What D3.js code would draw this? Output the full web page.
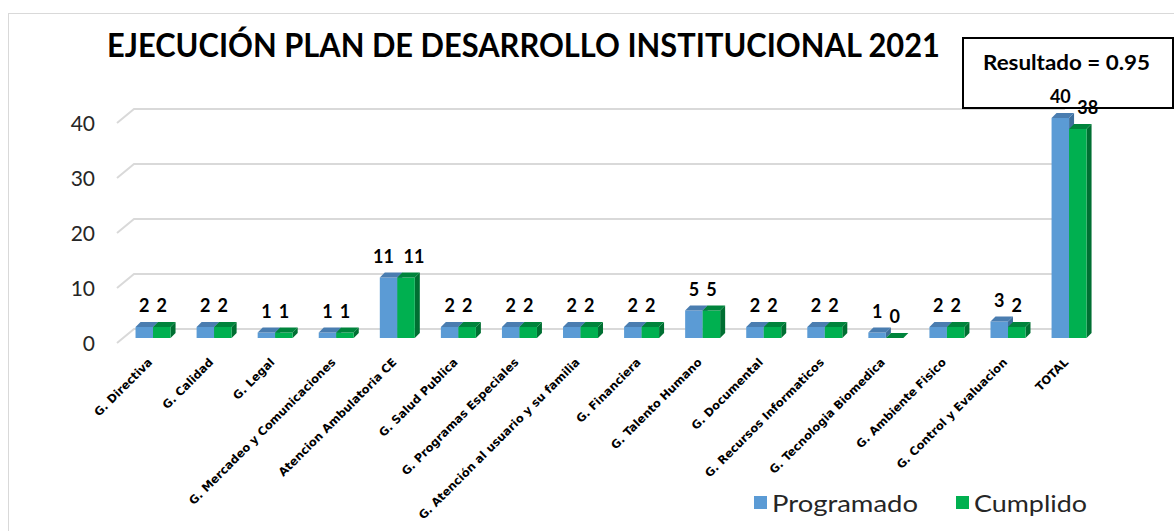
<!DOCTYPE html>
<html lang="es">
<head>
<meta charset="UTF-8">
<title>Ejecución Plan de Desarrollo Institucional 2021</title>
<script src="https://cdn.jsdelivr.net/npm/d3@7"></script>
<style>
	body { margin: 0; background: #fff; }
	.grid-line { fill: none; stroke: #d9d9d9; stroke-width: 2; }
	.y-axis text { font-family: Lato, sans-serif; font-size: 21px; fill: #262626; }
	.x-axis text { font-family: "DejaVu Sans", sans-serif; font-weight: bold; font-size: 11.5px; fill: #000; }
	.val { font-family: Lato, sans-serif; font-weight: bold; font-size: 18px; fill: #000; }
</style>
</head>
<body>
<div id="container"></div>
<script>
	const categories = ['G. Directiva', 'G. Calidad', 'G. Legal', 'G. Mercadeo y Comunicaciones',
		'Atencion Ambulatoria CE', 'G. Salud Publica', 'G. Programas Especiales',
		'G. Atención al usuario y su familia', 'G. Financiera', 'G. Talento Humano',
		'G. Documental', 'G. Recursos Informaticos', 'G. Tecnologia Biomedica',
		'G. Ambiente Fisico', 'G. Control y Evaluacion', 'TOTAL'];
	const programado = [2, 2, 1, 1, 11, 2, 2, 2, 2, 5, 2, 2, 1, 2, 3, 40];
	const cumplido   = [2, 2, 1, 1, 11, 2, 2, 2, 2, 5, 2, 2, 0, 2, 2, 38];
	const series = ['Programado', 'Cumplido'];
	const yTicks = [0, 10, 20, 30, 40];
	const title = 'EJECUCIÓN PLAN DE DESARROLLO INSTITUCIONAL 2021';
	const resultado = 'Resultado = 0.95';

	const width = 1174,
		height = 531;

	const colors = {
		Programado: { front: '#5b9bd5', top: '#4a7db0', side: '#3f6f9c' },
		Cumplido:   { front: '#00b050', top: '#00843c', side: '#006f32' }
	};
	const depth = 5; // bar 3d offset

	// label shifts where excel moved them apart
	function nudge(cat, s) {
		if (cat === 'Atencion Ambulatoria CE') return s === 'Programado' ? -5 : 8;
		if (cat === 'TOTAL' && s === 'Cumplido') return 10;
		return 0;
	}

	const x = d3.scaleBand()
		.domain(categories)
		.range([122.5, 1099.6]);

	const xs = d3.scaleBand()
		.domain(series)
		.range([0, 35]);

	const y = d3.scaleLinear()
		.domain([0, 40])
		.range([338, 118]);

	const svg = d3.select('#container')
		.append('svg')
		.attr('width', width)
		.attr('height', height);

	svg.append('rect')
		.attr('x', 8.5).attr('y', 13.5)
		.attr('width', 1200).attr('height', 600)
		.attr('fill', '#fff')
		.attr('stroke', '#d9d9d9');

	// grid lines on the back wall
	svg.append('g')
		.selectAll('path')
		.data(yTicks)
		.join('path')
		.classed('grid-line', true)
		.attr('d', d => `M117,${y(d) + 5}L134,${y(d) - 9}L1065,${y(d) - 9}`);

	const yAxis = svg.append('g')
		.attr('class', 'y-axis')
		.attr('transform', 'translate(95, 6)')
		.call(d3.axisLeft(y).tickValues(yTicks).tickSize(0).tickPadding(0));
	yAxis.select('.domain').remove();

	const xAxis = svg.append('g')
		.attr('class', 'x-axis')
		.attr('transform', 'translate(0, 363)')
		.call(d3.axisBottom(x).tickSize(0));
	xAxis.select('.domain').remove();
	xAxis.selectAll('text')
		.attr('x', 0)
		.attr('y', 0)
		.attr('dy', 0)
		.attr('text-anchor', 'end')
		.attr('transform', 'rotate(-45)');

	// result box
	svg.append('rect')
		.attr('x', 963).attr('y', 38)
		.attr('width', 210).attr('height', 70)
		.attr('fill', '#fff')
		.attr('stroke', '#000')
		.attr('stroke-width', 2);
	svg.append('text')
		.attr('x', 983).attr('y', 70)
		.attr('font-family', 'Lato, sans-serif')
		.attr('font-weight', 'bold')
		.attr('font-size', 21)
		.attr('textLength', 167)
		.attr('lengthAdjust', 'spacingAndGlyphs')
		.text(resultado);

	svg.append('text')
		.attr('x', 107).attr('y', 57)
		.attr('font-family', 'Lato, sans-serif')
		.attr('font-weight', 'bold')
		.attr('font-size', 32)
		.attr('textLength', 833)
		.attr('lengthAdjust', 'spacingAndGlyphs')
		.text(title);

	const rows = categories.map((c, i) => ({
		cat: c,
		vals: [
			{ s: 'Programado', v: programado[i] },
			{ s: 'Cumplido', v: cumplido[i] }
		]
	}));

	const groups = svg.append('g')
		.selectAll('g')
		.data(rows)
		.join('g')
		.attr('transform', d => `translate(${x(d.cat) + x.bandwidth() / 2 - 17.5}, 0)`);

	const bars = groups.selectAll('g.bar')
		.data(d => d.vals)
		.join('g')
		.attr('class', 'bar');

	bars.each(function(d) {
		const g = d3.select(this);
		const x0 = xs(d.s), w = xs.bandwidth();
		const top = y(d.v), base = y(0);
		const c = colors[d.s];
		// side
		g.append('path')
			.attr('d', `M${x0 + w},${top}L${x0 + w + depth},${top - depth}L${x0 + w + depth},${base - depth}L${x0 + w},${base}Z`)
			.attr('fill', c.side);
		// front
		g.append('rect')
			.attr('x', x0).attr('y', top)
			.attr('width', w).attr('height', base - top)
			.attr('fill', c.front);
		// top
		g.append('path')
			.attr('d', `M${x0},${top}L${x0 + depth},${top - depth}L${x0 + w + depth},${top - depth}L${x0 + w},${top}Z`)
			.attr('fill', c.top);
	});

	// value labels
	groups.selectAll('text.val')
		.data(d => d.vals.map(v => ({ ...v, cat: d.cat })))
		.join('text')
		.attr('class', 'val')
		.attr('text-anchor', 'middle')
		.attr('x', d => xs(d.s) + xs.bandwidth() / 2 + nudge(d.cat, d.s))
		.attr('y', d => y(d.v) - 15)
		.text(d => d.v);

	// legend
	const legend = svg.append('g')
		.selectAll('g')
		.data(series)
		.join('g')
		.attr('transform', (d, i) => `translate(${[754, 956][i]}, 496)`);
	legend.append('rect')
		.attr('width', 13).attr('height', 13)
		.attr('fill', d => colors[d].front);
	legend.append('text')
		.attr('x', 18).attr('y', 16)
		.attr('font-family', 'Lato, sans-serif')
		.attr('font-size', 24)
		.attr('fill', '#262626')
		.attr('textLength', (d, i) => [146, 113][i])
		.attr('lengthAdjust', 'spacingAndGlyphs')
		.text(d => d);
</script>
</body>
</html>
